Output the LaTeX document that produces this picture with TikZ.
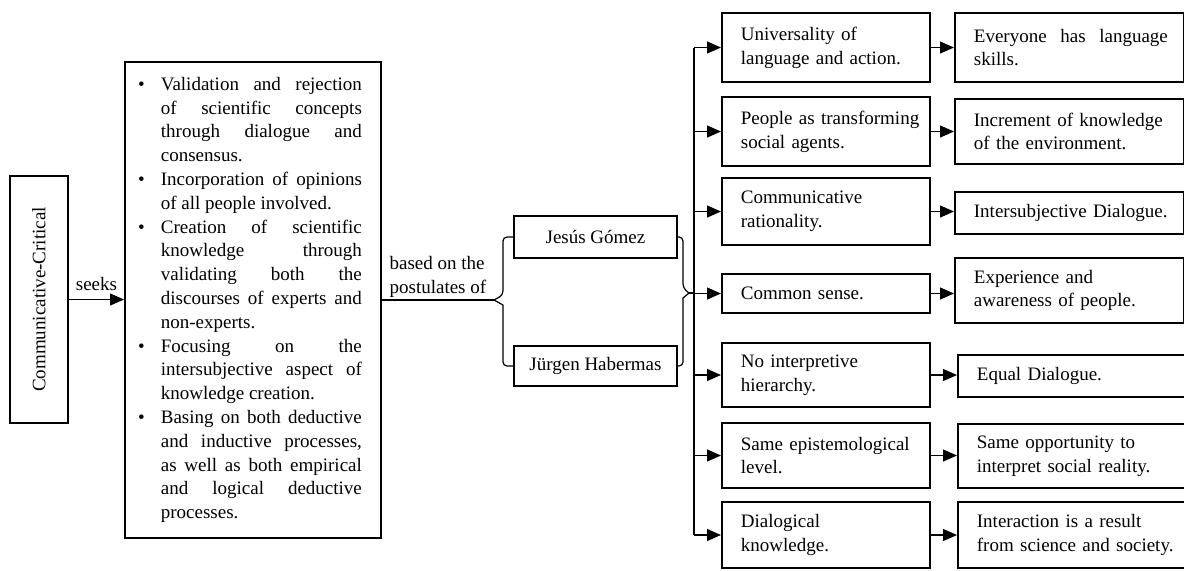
\documentclass[tikz,border=0pt]{standalone}
\usepackage{fontspec}
\setmainfont{Liberation Serif}
\usepackage{tikz}
\usetikzlibrary{arrows.meta,positioning}

\newcommand{\bul}{\leavevmode\llap{\textbullet\hspace{8.1pt}}}

\begin{document}
\begin{tikzpicture}[x=0.5pt, y=-0.5pt,
  box/.style={draw, line width=0.9pt, font=\fontsize{9.5}{11.9}\selectfont},
  link/.style={line width=0.6pt},
  tip/.style={link, -{Triangle[length=7pt,width=6pt]}},
  listbox/.style={box, anchor=north west, text width=124pt, inner xsep=2pt, minimum height=238pt, align=justify,
    execute at begin node={\leftskip=16pt\rightskip=7.5pt\hyphenpenalty=10000\tolerance=10000\parindent=0pt}},
  midbox/.style={box, anchor=west, text width=100pt, inner xsep=2pt, inner ysep=0pt, align=left,
    execute at begin node={\leftskip=7.5pt}},
  endbox/.style={midbox, text width=110.5pt}]
\useasboundingbox (0,0) rectangle (1184,570);

% Paradigm and what it seeks
\node[box, rotate=90, minimum width=123.5pt, minimum height=29pt] (cc) at (39,299.5) {Communicative-Critical};
\node[listbox] (aims) at (124,61) {%
\bul Validation and rejection\linebreak of scientific concepts\linebreak through dialogue and\linebreak consensus.\par
\bul Incorporation of opinions\linebreak of all people involved.\par
\bul Creation of scientific\linebreak knowledge through\linebreak validating both the\linebreak discourses of experts and\linebreak non-experts.\par
\bul Focusing on the\linebreak intersubjective aspect of\linebreak knowledge creation.\par
\bul Basing on both deductive\linebreak and inductive processes,\linebreak as well as both empirical\linebreak and logical deductive\linebreak processes.};
\draw[tip] (cc.south) -- node[above, inner sep=4pt, font=\fontsize{9.5}{11.9}\selectfont] {seeks} (aims.west |- cc.south);

% Authors
\node[box, minimum width=81.5pt, minimum height=21pt] (jg) at (595.5,237) {Jesús Gómez};
\node[box, minimum width=81.5pt, minimum height=20pt] (jh) at (595.5,366) {Jürgen Habermas};
\coordinate (lb) at (494,300);
\coordinate (rb) at (689,293);
\draw[link, rounded corners=2pt] (jg.west) -- (503,237) -- (503,295) [sharp corners] -- (lb) -- (503,305) [rounded corners=2pt] -- (503,366) -- (jh.west);
\draw[link, rounded corners=2pt] (jg.east) -- (683,237) -- (683,288) [sharp corners] -- (rb) -- (683,298) [rounded corners=2pt] -- (683,366) -- (jh.east);
\draw[link] (aims.east |- lb) -- node[above, inner sep=1pt, align=left, font=\fontsize{9.5}{11.9}\selectfont] {based on the\\postulates of} (lb);

% Postulates
\node[midbox, minimum height=34.5pt] (m1) at (721,47.5) {Universality of\\language and action.};
\node[midbox, minimum height=34.5pt] (m2) at (721,131.5) {People as transforming\\social agents.};
\node[midbox, minimum height=33.5pt] (m3) at (721,211.5) {Communicative\\rationality.};
\node[midbox, minimum height=19.5pt] (m4) at (721,293.5) {Common sense.};
\node[midbox, minimum height=32pt] (m5) at (721,375) {No interpretive\\hierarchy.};
\node[midbox, minimum height=32.5pt] (m6) at (721,455.5) {Same epistemological\\level.};
\node[midbox, minimum height=33pt] (m7) at (721,535) {Dialogical\\knowledge.};

% Consequences
\node[endbox, minimum height=34.5pt] (r1) at (954,47.5) {\makebox[97pt][l]{Everyone\hfill has\hfill language}\\skills.};
\node[endbox, minimum height=32.5pt] (r2) at (954,131.5) {Increment of knowledge\\of the environment.};
\node[endbox, minimum height=21pt] (r3) at (954,213) {Intersubjective Dialogue.};
\node[endbox, minimum height=32.5pt] (r4) at (954,290.5) {Experience and\\awareness of people.};
\node[endbox, minimum height=21pt] (r5) at (957,376) {Equal Dialogue.};
\node[endbox, minimum height=32pt] (r6) at (957,456) {Same opportunity to\\interpret social reality.};
\node[endbox, minimum height=33pt] (r7) at (957,535) {Interaction is a result\\from science and society.};

% Spine and arrows
\coordinate (spine) at (694,0);
\draw[link] (spine |- m1.west) -- (spine |- m7.west);
\draw[link] (rb) -- (spine |- rb);
\foreach \i in {1,...,7} {
  \draw[tip] (spine |- m\i.west) -- (m\i.west);
  \draw[tip] (m\i.east) -- (r\i.west |- m\i.east);
}
\end{tikzpicture}
\end{document}
